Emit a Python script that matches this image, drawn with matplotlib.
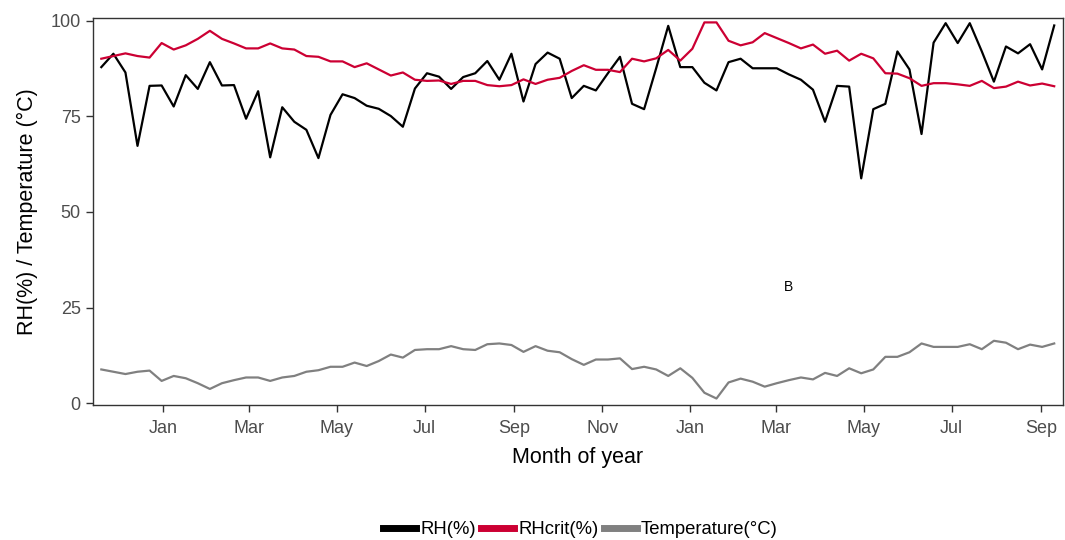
import numpy as np
import pandas as pd
import matplotlib
matplotlib.use("Agg")
import matplotlib.pyplot as plt
import matplotlib.dates as mdates

plt.rcParams['font.family'] = ['Liberation Sans', 'DejaVu Sans']

# weekly-ish observations, Nov 2013 - Sep 2015
dates = pd.date_range('2013-11-19', '2015-09-10', periods=80)

rh = [87.9, 91.4, 86.5, 67.3, 83.0, 83.1, 77.6, 85.8, 82.2, 89.2,
      83.1, 83.2, 74.4, 81.6, 64.3, 77.4, 73.6, 71.5, 64.1, 75.4,
      80.8, 79.8, 77.8, 77.0, 75.1, 72.3, 82.3, 86.3, 85.4, 82.2,
      85.3, 86.3, 89.5, 84.6, 91.4, 78.9, 88.7, 91.7, 90.1, 79.8,
      83.0, 81.8, 86.3, 90.6, 78.3, 76.9, 87.6, 98.7, 87.9, 87.9,
      83.8, 81.8, 89.2, 90.1, 87.6, 87.6, 87.6, 86.0, 84.6, 82.0,
      73.6, 83.0, 82.8, 58.8, 76.9, 78.3, 92.0, 87.3, 70.4, 94.3,
      99.4, 94.2, 99.4, 92.0, 84.1, 93.3, 91.5, 93.9, 87.3, 98.8]

rh_crit = [90.1, 90.8, 91.5, 90.8, 90.4, 94.2, 92.5, 93.6, 95.3, 97.4,
           95.3, 94.1, 92.8, 92.8, 94.1, 92.8, 92.5, 90.8, 90.6, 89.4,
           89.4, 87.9, 88.9, 87.3, 85.7, 86.5, 84.6, 84.3, 84.4, 83.5,
           84.3, 84.3, 83.2, 82.9, 83.2, 84.7, 83.5, 84.6, 85.1, 86.9,
           88.4, 87.2, 87.2, 86.6, 90.1, 89.4, 90.2, 92.4, 89.6, 92.7,
           99.6, 99.6, 94.8, 93.6, 94.4, 96.8, 95.5, 94.2, 92.8, 93.8,
           91.4, 92.2, 89.6, 91.4, 90.2, 86.3, 86.2, 85.0, 83.0, 83.7,
           83.7, 83.4, 83.0, 84.3, 82.4, 82.8, 84.1, 83.1, 83.6, 82.9]

temp = [8.8, 8.2, 7.6, 8.2, 8.5, 5.8, 7.1, 6.5, 5.2, 3.7,
        5.2, 6.0, 6.7, 6.7, 5.8, 6.7, 7.1, 8.2, 8.6, 9.5,
        9.5, 10.6, 9.7, 11.0, 12.7, 11.9, 13.9, 14.1, 14.1, 14.9,
        14.1, 13.9, 15.4, 15.6, 15.2, 13.4, 14.9, 13.7, 13.3, 11.5,
        10.0, 11.4, 11.4, 11.7, 8.9, 9.5, 8.8, 7.1, 9.1, 6.6,
        2.7, 1.2, 5.4, 6.4, 5.6, 4.3, 5.2, 6.0, 6.7, 6.2,
        7.9, 7.1, 9.1, 7.8, 8.8, 12.1, 12.1, 13.3, 15.6, 14.7,
        14.7, 14.7, 15.4, 14.1, 16.3, 15.8, 14.1, 15.3, 14.7, 15.6]

fig = plt.figure(figsize=(10.65, 5.4), dpi=100)
ax = fig.add_axes([0.087, 0.25, 0.911, 0.717])

ax.plot(dates, rh, color='black', lw=1.6, label='RH(%)')
ax.plot(dates, rh_crit, color='#CC0033', lw=1.6, label='RHcrit(%)')
ax.plot(dates, temp, color='#808080', lw=1.6, label='Temperature(°C)')

ax.text(pd.Timestamp('2015-03-10'), 30.4, 'B', fontsize=10, ha='center', va='center')

ax.set_xlim(pd.Timestamp('2013-11-13'), pd.Timestamp('2015-09-16'))
ax.set_ylim(-0.5, 100.8)
ax.set_yticks([0, 25, 50, 75, 100])
ax.xaxis.set_major_locator(mdates.MonthLocator(bymonth=[1, 3, 5, 7, 9, 11]))
ax.xaxis.set_major_formatter(mdates.DateFormatter('%b'))

for s in ax.spines.values():
    s.set_color('#333333')
    s.set_linewidth(1.0)
ax.tick_params(colors='#333333', labelcolor='#4D4D4D', labelsize=13, length=5, width=1)
ax.tick_params(axis='x', pad=6)

ax.set_xlabel('Month of year', fontsize=15.5, labelpad=7)
ax.set_ylabel('RH(%) / Temperature (°C)', fontsize=15.5, labelpad=9)

leg = fig.legend(loc='center', bbox_to_anchor=(0.545, 0.019), ncol=3, frameon=False,
                 fontsize=13.3, handlelength=1.8, handletextpad=0.2, columnspacing=0.3)
for h in leg.get_lines():
    h.set_linewidth(5)

fig.savefig('out.png', dpi=100)
